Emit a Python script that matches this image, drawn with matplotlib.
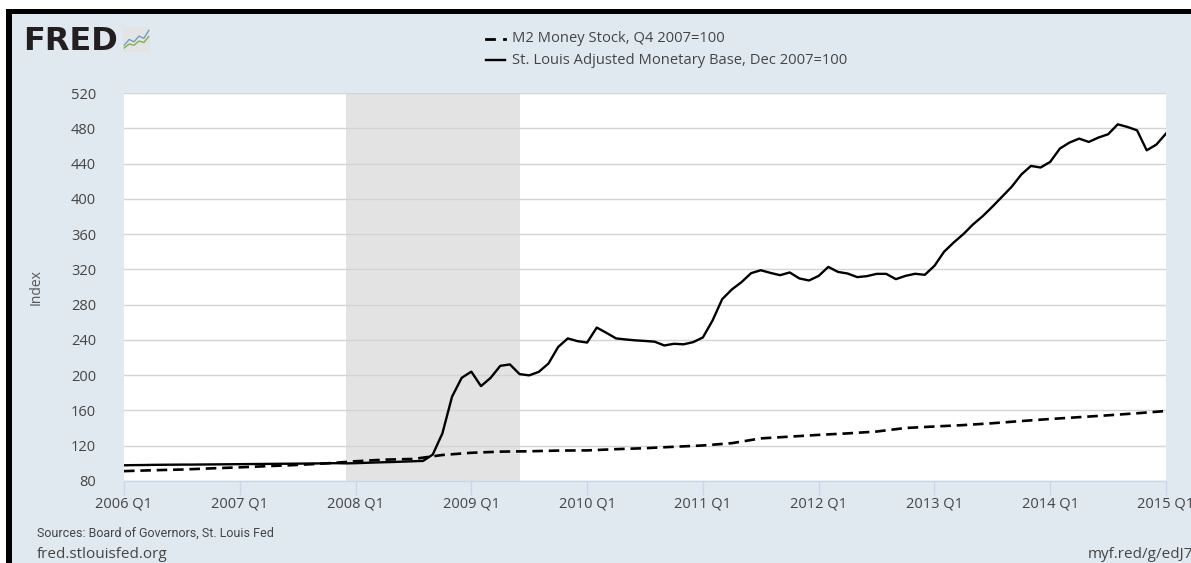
"""FRED chart: M2 money stock vs. St. Louis adjusted monetary base, 2006-2015."""
import matplotlib
matplotlib.use("Agg")
import matplotlib.pyplot as plt
from matplotlib.patches import Rectangle
from matplotlib.lines import Line2D

W, H = 1191, 563

# M2 Money Stock, quarterly, Q4 2007=100 (2006 Q1 .. 2015 Q1)
m2_index = [91.2, 92.2, 93.0, 94.3, 95.5, 96.9, 98.2, 100.0,
            102.4, 104.2, 105.0, 109.5, 112.0, 113.3, 113.7, 114.5,
            114.7, 116.1, 117.2, 118.8, 120.3, 122.9, 128.3, 130.3,
            132.3, 134.0, 136.1, 140.1, 141.8, 143.4, 145.5, 148.0,
            150.3, 152.4, 154.5, 156.8, 159.4]

# St. Louis Adjusted Monetary Base, monthly, Dec 2007=100 (Jan 2006 .. Jan 2015)
base_index = [97.8, 98.0, 98.1, 98.3, 98.4, 98.5, 98.6, 98.6, 98.7, 98.8, 98.9, 99.0,
              99.1, 99.2, 99.3, 99.4, 99.5, 99.6, 99.7, 99.8, 99.9, 100.1, 100.2, 100.0,
              100.2, 100.6, 101.0, 101.3, 101.6, 102.0, 102.4, 102.8, 110.0, 134.0, 175.6, 197.0,
              204.0, 187.6, 197.0, 210.6, 212.2, 201.2, 199.8, 203.8, 213.3, 232.0, 241.7, 238.6,
              237.0, 254.0, 248.0, 241.7, 240.5, 239.5, 238.8, 238.0, 233.7, 235.6, 235.0, 237.5,
              242.8, 262.0, 286.2, 297.2, 305.5, 315.7, 319.0, 316.0, 313.4, 316.5, 309.7, 307.4,
              312.6, 322.8, 317.1, 315.3, 311.2, 312.3, 314.9, 314.9, 308.9, 312.6, 315.0, 313.8,
              324.0, 340.0, 350.5, 360.0, 371.0, 380.3, 391.0, 402.3, 413.6, 427.5, 437.3, 435.5,
              441.9, 457.0, 463.8, 468.3, 464.5, 469.5, 473.2, 484.5, 481.5, 477.7, 455.0, 461.5,
              474.0]

tick_labels = ["2006 Q1", "2007 Q1", "2008 Q1", "2009 Q1", "2010 Q1",
               "2011 Q1", "2012 Q1", "2013 Q1", "2014 Q1", "2015 Q1"]
y_ticks = [80, 120, 160, 200, 240, 280, 320, 360, 400, 440, 480, 520]
recession = (23, 41)  # months since Jan 2006: Dec 2007 .. Jun 2009

BG = "#e1e9f0"
TXT = "#444444"
plt.rcParams["font.family"] = ["Open Sans", "DejaVu Sans"]


def fx(px):
    return px / W


def fy(py):
    return 1 - py / H


fig = plt.figure(figsize=(W / 100, H / 100), dpi=100, facecolor="white")

# screenshot frame: black band on top and left, FRED background inside
fig.add_artist(Rectangle((fx(6), 0), 1, fy(9), transform=fig.transFigure,
                         facecolor="black", edgecolor="none", zorder=0))
fig.add_artist(Rectangle((fx(12), 0), 1, fy(14), transform=fig.transFigure,
                         facecolor=BG, edgecolor="none", zorder=0))

ax = fig.add_axes([fx(124), fy(481), fx(1166) - fx(124), fy(93) - fy(481)])
ax.set_facecolor("white")

months = list(range(len(base_index)))
quarters = [3 * i for i in range(len(m2_index))]

ax.axvspan(recession[0], recession[1], color="#e3e3e3", lw=0, zorder=0)
ax.plot(quarters, m2_index, color="black", lw=1.9, ls=(0, (4, 2.2)), zorder=3)
ax.plot(months, base_index, color="black", lw=1.7, zorder=4)

ax.set_xlim(0, 108)
ax.set_ylim(80, 520)
ax.set_xticks(range(0, 109, 12))
ax.set_xticklabels(tick_labels)
ax.set_yticks(y_ticks)
ax.grid(axis="y", color="#d4d4d4", lw=1)
ax.set_axisbelow(True)
for side in ("top", "right", "left"):
    ax.spines[side].set_visible(False)
ax.spines["bottom"].set_color("#ccd6eb")
ax.spines["bottom"].set_linewidth(1)
ax.tick_params(axis="x", length=10, width=1, color="#ccd6eb", labelsize=10.5,
               labelcolor=TXT, pad=1)
ax.tick_params(axis="y", length=0, labelsize=10.5, labelcolor=TXT, pad=20)
ax.set_ylabel("Index", fontsize=10, color="#555555", labelpad=20)

# FRED logo
fig.text(fx(23), fy(50), "FRED", fontsize=23, fontweight="heavy",
         family="DejaVu Sans", color="#231f20")
icon = fig.add_axes([fx(123), fy(52), fx(27), fy(27) - fy(52)])
icon.set_facecolor("#e4e4e4")
icon.plot([0, 2, 4, 6, 8, 10], [2, 4.5, 3.5, 6, 5, 8.5], color="#6d9fc6", lw=1)
icon.plot([0, 2, 4, 6, 8, 10], [0.8, 2.5, 2, 3.8, 3.2, 5.8], color="#7fb24a", lw=1)
icon.set_xlim(-0.5, 10.5)
icon.set_ylim(-1, 10)
icon.set_xticks([])
icon.set_yticks([])
for sp in icon.spines.values():
    sp.set_visible(False)

# legend
fig.add_artist(Line2D([fx(486), fx(494)], [fy(39), fy(39)], color="black", lw=2,
                      transform=fig.transFigure))
fig.add_artist(Line2D([fx(503.5), fx(505)], [fy(39), fy(39)], color="black", lw=2,
                      transform=fig.transFigure))
fig.add_artist(Line2D([fx(486), fx(505)], [fy(60), fy(60)], color="black", lw=1.7,
                      transform=fig.transFigure))
fig.text(fx(512), fy(39), "M2 Money Stock, Q4 2007=100", fontsize=10.6,
         color=TXT, va="center")
fig.text(fx(512), fy(60), "St. Louis Adjusted Monetary Base, Dec 2007=100",
         fontsize=10.6, color=TXT, va="center")

# footer
fig.text(fx(37), fy(533), "Sources: Board of Governors, St. Louis Fed", fontsize=9,
         color=TXT, va="center", family="Roboto")
fig.text(fx(37), fy(554), "fred.stlouisfed.org", fontsize=11, color=TXT, va="center")
fig.text(fx(1193), fy(554), "myf.red/g/edJ7", fontsize=11, color=TXT, va="center",
         ha="right")

fig.savefig("out.png", dpi=100, facecolor="white")
